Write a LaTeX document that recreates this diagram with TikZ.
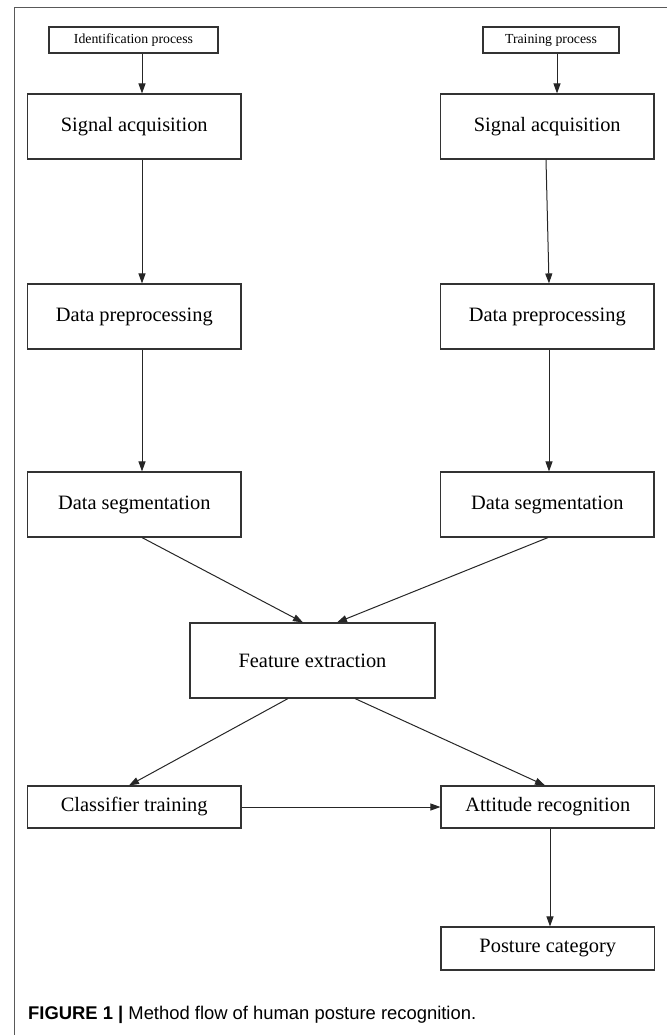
\documentclass[tikz,border=0pt]{standalone}
\usepackage{fontspec}
\setmainfont{Liberation Serif}
\newfontfamily\capfont{Liberation Sans}
\usetikzlibrary{arrows.meta}
\begin{document}
\begin{tikzpicture}[x=1pt,y=-1pt,
  box/.style={draw=black!80,line width=1.1pt,inner sep=0pt,minimum width=213.5pt,font=\fontsize{20.4}{24}\selectfont},
  smallbox/.style={draw=black!80,line width=1.1pt,inner sep=0pt,minimum height=26pt,font=\fontsize{13.8}{16}\selectfont},
  conn/.style={draw=black!85,line width=1pt,-{Triangle[length=10pt,width=7pt]}},
  frameline/.style={draw=black!65,line width=1pt}]
\useasboundingbox (0,0) rectangle (667,1035);
\draw[frameline] (14,1035) -- (14,8) -- (667,8);
% top boxes
\node[smallbox,minimum width=169pt] (ident) at (133.5,40) {Identification process};
\node[smallbox,minimum width=136pt] (train) at (551,40) {Training process};
% left column
\node[box,minimum height=65pt] (sigL) at (134.25,126.5) {Signal acquisition};
\node[box,minimum height=65pt] (preL) at (134.25,316.5) {Data preprocessing};
\node[box,minimum height=65pt] (segL) at (134.25,504.5) {Data segmentation};
% right column
\node[box,minimum height=65pt] (sigR) at (547.25,126.5) {Signal acquisition};
\node[box,minimum height=65pt] (preR) at (547.25,316.5) {Data preprocessing};
\node[box,minimum height=65pt] (segR) at (547.25,504.5) {Data segmentation};
% middle
\node[box,minimum width=245pt,minimum height=75pt] (feat) at (312.5,660.5) {Feature extraction};
\node[box,minimum height=42pt] (cls) at (134.25,807) {Classifier training};
\node[box,minimum height=42pt] (att) at (547.75,807) {Attitude recognition};
\node[box,minimum height=43pt] (post) at (547.75,948.5) {Posture category};
% caption
\node[anchor=west,inner sep=0pt,font=\capfont\fontsize{18.4}{22}\selectfont] (cap) at (28,1015) {\textbf{FIGURE 1 |} Method flow of human posture recognition.};
% reference x positions
\coordinate (xa) at (142,0);
\coordinate (xb) at (557,0);
\coordinate (xc) at (546,0);
\coordinate (xd) at (549,0);
\coordinate (xe) at (548,0);
\coordinate (xf) at (545,0);
\coordinate (xg) at (550,0);
\coordinate (f1) at (303,0);
\coordinate (f2) at (337,0);
\coordinate (f3) at (288,0);
\coordinate (f4) at (355,0);
\coordinate (c1) at (129,0);
% connectors
\draw[conn] (ident.south -| xa) -- (sigL.north -| xa);
\draw[conn] (train.south -| xb) -- (sigR.north -| xb);
\draw[conn] (sigL.south -| xa) -- (preL.north -| xa);
\draw[conn] (sigR.south -| xc) -- (preR.north -| xd);
\draw[conn] (preL.south -| xa) -- (segL.north -| xa);
\draw[conn] (preR.south -| xd) -- (segR.north -| xd);
\draw[conn] (segL.south -| xa) -- (feat.north -| f1);
\draw[conn] (segR.south -| xe) -- (feat.north -| f2);
\draw[conn] (feat.south -| f3) -- (cls.north -| c1);
\draw[conn] (feat.south -| f4) -- (att.north -| xf);
\draw[conn] (cls.east) -- (att.west);
\draw[conn] (att.south -| xg) -- (post.north -| xg);
\end{tikzpicture}
\end{document}
